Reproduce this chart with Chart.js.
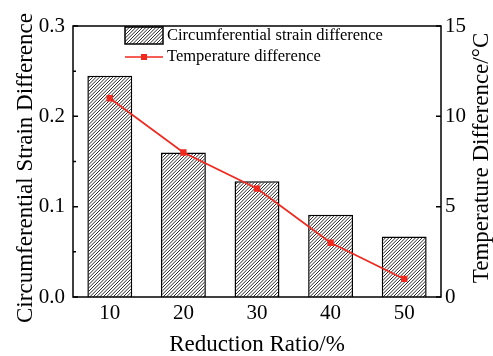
<!DOCTYPE html>
<html>
<head>
<meta charset="utf-8">
<script src="https://cdn.jsdelivr.net/npm/chart.js@4"></script>
<style>
  body { margin: 0; background: #fff; }
  #wrap { width: 493px; height: 356px; }
</style>
</head>
<body>
<div id="wrap"><canvas id="chart"></canvas></div>
<script>
const reductionRatios = ["10", "20", "30", "40", "50"];
const strainDiff = [0.245, 0.16, 0.128, 0.091, 0.067];
const tempDiff = [11, 8, 6, 3, 1];
const leftTicks = [0, 0.1, 0.2, 0.3];
const rightTicks = [0, 5, 10, 15];

const FONT = "'Liberation Serif', 'Times New Roman', serif";
const RED = "#f0281e";

function makeHatch() {
  const n = 10;
  const c = document.createElement("canvas");
  c.width = n;
  c.height = n;
  const g = c.getContext("2d");
  g.fillStyle = "#fff";
  g.fillRect(0, 0, n, n);
  g.strokeStyle = "#111";
  g.lineWidth = 0.9;
  g.beginPath();
  // lines x + y = s, spaced n/3 apart
  for (let k = -3; k <= 9; k++) {
    const s = (k * n) / 3;
    g.moveTo(s + n, -n);
    g.lineTo(s - 2 * n, 2 * n);
  }
  g.stroke();
  return g.createPattern(c, "repeat");
}
const hatch = makeHatch();

function vText(ctx, text, x, y) {
  ctx.save();
  ctx.translate(x, y);
  ctx.rotate(-Math.PI / 2);
  ctx.textAlign = "center";
  ctx.textBaseline = "middle";
  ctx.fillText(text, 0, 0);
  ctx.restore();
}

// frame, inward ticks, vertical titles and legend
const framePlugin = {
  id: "frame",
  afterDraw(chart) {
    const { ctx, chartArea: a, scales } = chart;
    ctx.save();
    ctx.strokeStyle = "#000";
    ctx.lineWidth = 1.5;
    ctx.strokeRect(a.left, a.top, a.right - a.left, a.bottom - a.top);

    ctx.beginPath();
    for (let v = 0; v <= 0.3001; v += 0.05) {
      const y = scales.y.getPixelForValue(v);
      const major = Math.abs(v * 10 - Math.round(v * 10)) < 1e-6;
      ctx.moveTo(a.left, y);
      ctx.lineTo(a.left + (major ? 5 : 3), y);
    }
    rightTicks.forEach((v) => {
      const y = scales.y2.getPixelForValue(v);
      ctx.moveTo(a.right, y);
      ctx.lineTo(a.right - 5, y);
    });
    ctx.stroke();

    ctx.fillStyle = "#000";
    ctx.font = "23px " + FONT;
    vText(ctx, "Circumferential Strain Difference", 26, 168);
    vText(ctx, "Temperature Difference/°C", 482, 158);

    // legend
    const lx = a.left + 52;
    ctx.fillStyle = hatch;
    ctx.fillRect(lx, 27, 38, 17);
    ctx.strokeRect(lx, 27, 38, 17);
    ctx.strokeStyle = RED;
    ctx.lineWidth = 1.5;
    ctx.beginPath();
    ctx.moveTo(lx, 57);
    ctx.lineTo(lx + 38, 57);
    ctx.stroke();
    ctx.fillStyle = RED;
    ctx.fillRect(lx + 16, 54, 6, 6);

    ctx.fillStyle = "#000";
    ctx.font = "16.5px " + FONT;
    ctx.textBaseline = "middle";
    ctx.fillText("Circumferential strain difference", lx + 42, 35.5);
    ctx.fillText("Temperature difference", lx + 42, 57);
    ctx.restore();
  },
};

new Chart(document.getElementById("chart"), {
  data: {
    labels: reductionRatios,
    datasets: [
      {
        type: "line",
        label: "Temperature difference",
        data: tempDiff,
        yAxisID: "y2",
        borderColor: RED,
        backgroundColor: RED,
        borderWidth: 1.7,
        pointStyle: "rect",
        pointRadius: 4.5,
        pointBorderWidth: 0,
        order: 0,
      },
      {
        type: "bar",
        label: "Circumferential strain difference",
        data: strainDiff,
        yAxisID: "y",
        backgroundColor: hatch,
        borderColor: "#000",
        borderWidth: 1.5,
        barPercentage: 0.61,
        categoryPercentage: 1,
        order: 1,
      },
    ],
  },
  options: {
    responsive: true,
    maintainAspectRatio: false,
    animation: false,
    layout: { padding: { top: 26, left: 0, right: 0, bottom: 0 } },
    plugins: { legend: { display: false }, tooltip: { enabled: false } },
    scales: {
      x: {
        offset: true,
        grid: { display: false, drawTicks: false },
        border: { display: false },
        ticks: { color: "#000", font: { family: FONT, size: 21 }, padding: 4 },
        title: {
          display: true,
          text: "Reduction Ratio/%",
          color: "#000",
          font: { family: FONT, size: 23, lineHeight: 1 },
          padding: 0,
        },
        afterFit: (s) => { s.height = 59; },
      },
      y: {
        position: "left",
        min: 0,
        max: 0.3,
        afterBuildTicks: (s) => { s.ticks = leftTicks.map((v) => ({ value: v })); },
        grid: { display: false, drawTicks: false },
        border: { display: false },
        ticks: {
          color: "#000",
          font: { family: FONT, size: 21 },
          padding: 8,
          callback: (v) => v.toFixed(1),
        },
        afterFit: (s) => { s.width = 73; },
      },
      y2: {
        position: "right",
        min: 0,
        max: 15,
        afterBuildTicks: (s) => { s.ticks = rightTicks.map((v) => ({ value: v })); },
        grid: { display: false, drawTicks: false },
        border: { display: false },
        ticks: { color: "#000", font: { family: FONT, size: 21 }, padding: 4 },
        afterFit: (s) => { s.width = 52; },
      },
    },
  },
  plugins: [framePlugin],
});
</script>
</body>
</html>
